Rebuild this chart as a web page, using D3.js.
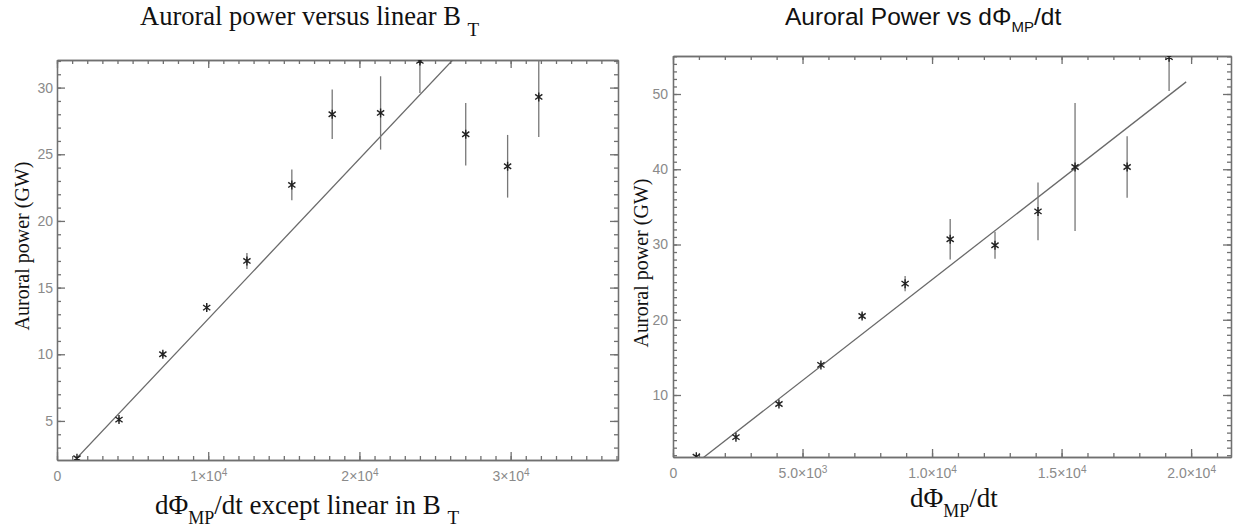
<!DOCTYPE html>
<html>
<head>
<meta charset="utf-8">
<script src="https://cdn.jsdelivr.net/npm/d3@7"></script>
<style>
  body { margin: 0; background: #fff; }
  svg { display: block; }
</style>
</head>
<body>
<script>
var width = 1235, height = 531;

// left panel: power versus linear B_T
var xLeft = [1320, 4100, 7000, 9900, 12560, 15530, 18200, 21400, 24000, 27030, 29800, 31860];
var yLeft = [2.2, 5.1, 10.0, 13.5, 17.0, 22.7, 28.0, 28.1, 32.0, 26.5, 24.1, 29.3];
var errLeft = [0.1, 0.2, 0.2, 0.3, 0.6, 1.15, 1.85, 2.75, 2.4, 2.35, 2.35, 3.0];
var fitLeft = [0.64, 0.001201];          // intercept, slope
var fitLeftRange = [0, 37100];
var xTicksLeft = [0, 10000, 20000, 30000];
var xLabelsLeft = ["0", "1×10^4", "2×10^4", "3×10^4"];
var yTicksLeft = [5, 10, 15, 20, 25, 30];
var yLabelsLeft = ["5", "10", "15", "20", "25", "30"];

// right panel: power versus dPhi/dt
var xRight = [900, 2430, 4090, 5710, 7300, 8960, 10700, 12430, 14090, 15520, 17530, 19150];
var yRight = [1.8, 4.4, 8.8, 14.0, 20.5, 24.8, 30.7, 29.9, 34.4, 40.3, 40.3, 54.9];
var errRight = [0.1, 0.3, 0.3, 0.3, 0.4, 1.0, 2.7, 1.8, 3.85, 8.5, 4.1, 4.5];
var fitRight = [-1.46, 0.002679];
var fitRightRange = [0, 19810];
var xTicksRight = [0, 5000, 10000, 15000, 20000];
var xLabelsRight = ["0", "5.0×10^3", "1.0×10^4", "1.5×10^4", "2.0×10^4"];
var yTicksRight = [10, 20, 30, 40, 50];
var yLabelsRight = ["10", "20", "30", "40", "50"];

var frameColor = '#707070',
    labelColor = '#8a8a8a',
    serif = '"Liberation Serif", "Times New Roman", serif',
    sans = '"Liberation Sans", Arial, sans-serif';

var svg = d3.select("body").append("svg")
    .attr("width", width)
    .attr("height", height);

svg.append("rect").attr("width", width).attr("height", height).attr("fill", "#fff");

//turn "1×10^4" into text with a superscript
function superscript(sel) {
  sel.selectAll(".tick text").each(function() {
    var t = d3.select(this), s = t.text();
    if (s.indexOf("^") < 0) return;
    var parts = s.split("^");
    t.text(null);
    t.append("tspan").text(parts[0]);
    t.append("tspan").attr("dy", "-0.45em").attr("font-size", "0.72em").text(parts[1]);
  });
}

function styleAxis(g) {
  g.attr("font-family", sans).attr("font-size", 14);
  g.selectAll("path, line").attr("stroke", frameColor).attr("stroke-width", 1.3);
  g.selectAll("text").attr("fill", labelColor);
}

function drawPanel(p) {
  var x = d3.scaleLinear().domain(p.xDomain).range([p.left, p.right]);
  var y = d3.scaleLinear().domain(p.yDomain).range([p.bottom, p.top]);
  var minorX = d3.range(p.xDomain[0], p.xDomain[1] + 1, 1000);
  var minorY = d3.range(Math.ceil(p.yDomain[0]), p.yDomain[1], 1);

  // minor ticks on all four sides
  [[d3.axisBottom, 'translate(0,' + p.bottom + ')', x, minorX],
   [d3.axisTop, 'translate(0,' + p.top + ')', x, minorX],
   [d3.axisLeft, 'translate(' + p.left + ',0)', y, minorY],
   [d3.axisRight, 'translate(' + p.right + ',0)', y, minorY]].forEach(function(a) {
    svg.append("g")
      .attr("transform", a[1])
      .call(a[0](a[2]).tickValues(a[3]).tickSizeInner(-4).tickSizeOuter(0).tickFormat(""))
      .call(styleAxis);
  });

  //major ticks, labels on bottom and left
  svg.append("g")
    .attr("transform", 'translate(0,' + p.bottom + ')')
    .call(d3.axisBottom(x).tickValues(p.xTicks).tickSizeInner(-8).tickSizeOuter(0).tickPadding(11)
      .tickFormat(function(d, i) { return p.xLabels[i]; }))
    .call(styleAxis)
    .call(superscript);
  svg.append("g")
    .attr("transform", 'translate(0,' + p.top + ')')
    .call(d3.axisTop(x).tickValues(p.xTicks).tickSizeInner(-8).tickSizeOuter(0).tickFormat(""))
    .call(styleAxis);
  svg.append("g")
    .attr("transform", 'translate(' + p.left + ',0)')
    .call(d3.axisLeft(y).tickValues(p.yTicks).tickSizeInner(-8).tickSizeOuter(0).tickPadding(p.yPad)
      .tickFormat(function(d, i) { return p.yLabels[i]; }))
    .call(styleAxis);
  svg.append("g")
    .attr("transform", 'translate(' + p.right + ',0)')
    .call(d3.axisRight(y).tickValues(p.yTicks).tickSizeInner(-8).tickSizeOuter(0).tickFormat(""))
    .call(styleAxis);

  var clipId = 'clip-' + p.name;
  svg.append("clipPath").attr("id", clipId)
    .append("rect")
    .attr("x", p.left).attr("y", p.top)
    .attr("width", p.right - p.left).attr("height", p.bottom - p.top);

  var plot = svg.append("g").attr("clip-path", 'url(#' + clipId + ')');

  // fit line
  var line = d3.line()
    .x(function(d) { return x(d); })
    .y(function(d) { return y(p.fit[0] + p.fit[1] * d); });
  plot.append("path")
    .datum(p.fitRange)
    .attr("d", line)
    .attr("fill", "none")
    .attr("stroke", '#6a6a6a')
    .attr("stroke-width", 1.3);

  var pts = p.xs.map(function(v, i) { return {x: v, y: p.ys[i], e: p.errs[i]}; });

  // error bars
  plot.selectAll("line.err")
    .data(pts)
    .enter()
    .append("line")
    .attr("class", "err")
    .attr("x1", function(d) { return x(d.x); })
    .attr("x2", function(d) { return x(d.x); })
    .attr("y1", function(d) { return y(d.y - d.e); })
    .attr("y2", function(d) { return y(d.y + d.e); })
    .attr("stroke", '#777')
    .attr("stroke-width", 1.3);

  // asterisk symbols
  var star = 'M0,-4.5L0,4.5M-3.6,-2.6L3.6,2.6M-3.6,2.6L3.6,-2.6';
  plot.selectAll("path.pt")
    .data(pts)
    .enter()
    .append("path")
    .attr("class", "pt")
    .attr("transform", function(d) { return 'translate(' + x(d.x) + ',' + y(d.y) + ')'; })
    .attr("d", star)
    .attr("fill", "none")
    .attr("stroke", '#222')
    .attr("stroke-width", 1.4);
}

drawPanel({
  name: 'left', left: 57, right: 618, top: 60, bottom: 460,
  xDomain: [0, 37100], yDomain: [2.07, 32.07], yPad: 4,
  xTicks: xTicksLeft, xLabels: xLabelsLeft, yTicks: yTicksLeft, yLabels: yLabelsLeft,
  xs: xLeft, ys: yLeft, errs: errLeft, fit: fitLeft, fitRange: fitLeftRange
});

drawPanel({
  name: 'right', left: 673, right: 1231, top: 56, bottom: 457,
  xDomain: [0, 21540], yDomain: [1.76, 55.05], yPad: 5,
  xTicks: xTicksRight, xLabels: xLabelsRight, yTicks: yTicksRight, yLabels: yLabelsRight,
  xs: xRight, ys: yRight, errs: errRight, fit: fitRight, fitRange: fitRightRange
});

// titles
var t1 = svg.append("text")
  .attr("x", 140).attr("y", 25)
  .attr("font-family", serif).attr("font-size", 26.5).attr("fill", '#111');
t1.append("tspan").text("Auroral power versus linear B ");
t1.append("tspan").attr("dy", 11).attr("font-size", 19).text("T");

var t2 = svg.append("text")
  .attr("x", 785).attr("y", 25)
  .attr("font-family", sans).attr("font-size", 24.5).attr("fill", '#111');
t2.append("tspan").text("Auroral Power vs dΦ");
t2.append("tspan").attr("dy", 7).attr("font-size", 15).text("MP");
t2.append("tspan").attr("dy", -7).text("/dt");

// x axis titles
var xt1 = svg.append("text")
  .attr("x", 155).attr("y", 514)
  .attr("font-family", serif).attr("font-size", 27).attr("fill", '#111');
xt1.append("tspan").text("dΦ");
xt1.append("tspan").attr("dy", 10).attr("font-size", 18).text("MP");
xt1.append("tspan").attr("dy", -10).text("/dt except linear in B ");
xt1.append("tspan").attr("dy", 10).attr("font-size", 19).text("T");

var xt2 = svg.append("text")
  .attr("x", 910).attr("y", 507)
  .attr("font-family", serif).attr("font-size", 27).attr("fill", '#111');
xt2.append("tspan").text("dΦ");
xt2.append("tspan").attr("dy", 10).attr("font-size", 18).text("MP");
xt2.append("tspan").attr("dy", -10).text("/dt");

// y axis titles
svg.append("text")
  .attr("transform", 'translate(29,246) rotate(-90)')
  .attr("text-anchor", "middle")
  .attr("font-family", serif).attr("font-size", 20).attr("fill", '#111')
  .text("Auroral power (GW)");

svg.append("text")
  .attr("transform", 'translate(648,263) rotate(-90)')
  .attr("text-anchor", "middle")
  .attr("font-family", serif).attr("font-size", 20).attr("fill", '#111')
  .text("Auroral power (GW)");
</script>
</body>
</html>
